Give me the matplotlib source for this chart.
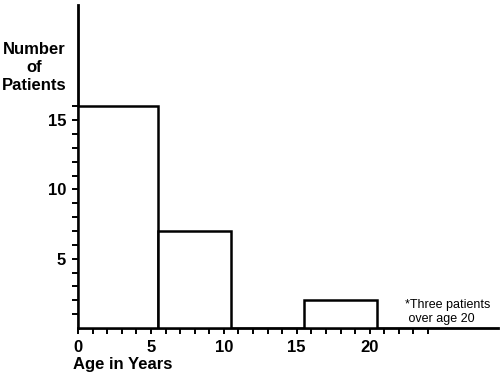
import matplotlib.pyplot as plt
from matplotlib.ticker import MultipleLocator

# age bins (years) and patient counts
bin_start = [0, 5.5, 15.5]
bin_end = [5.5, 10.5, 20.5]
patients = [16, 7, 2]

x_ticks = [0, 5, 10, 15, 20]
y_ticks = [5, 10, 15]

plt.rcParams['font.family'] = ['Liberation Sans', 'DejaVu Sans']

fig = plt.figure(figsize=(5, 3.75), dpi=100)
ax = fig.add_axes([78 / 500, 47 / 375, 420 / 500, 323 / 375])

widths = [e - s for s, e in zip(bin_start, bin_end)]
ax.bar(bin_start, patients, width=widths, align='edge',
       facecolor='white', edgecolor='black', linewidth=1.8, zorder=3)

ax.set_xlim(0, 28.8)
ax.set_ylim(0, 23.3)

for s in ['top', 'right']:
    ax.spines[s].set_visible(False)
for s in ['left', 'bottom']:
    ax.spines[s].set_linewidth(2)

ax.set_xticks(x_ticks)
ax.set_xticklabels([str(t) for t in x_ticks], fontsize=12, fontweight='bold')
ax.set_xticks(range(0, 25), minor=True)
ax.set_yticks(y_ticks)
ax.set_yticklabels([str(t) for t in y_ticks], fontsize=12, fontweight='bold')
ax.set_yticks(range(1, 17), minor=True)

ax.tick_params(which='both', direction='out', length=4.5, width=1.4, color='black')
ax.tick_params(axis='x', which='major', pad=4)
ax.tick_params(axis='y', which='major', pad=4)

fig.text(34 / 500, 1 - 68 / 375, 'Number\nof\nPatients', ha='center', va='center',
         fontsize=12, fontweight='bold', linespacing=1.25)
fig.text(73 / 500, 1 - 364 / 375, 'Age in Years', ha='left', va='center',
         fontsize=12, fontweight='bold')
fig.text(405 / 500, 1 - 312 / 375, '*Three patients\n over age 20', ha='left', va='center',
         fontsize=9, linespacing=1.2)

fig.savefig('out.png', dpi=100)
